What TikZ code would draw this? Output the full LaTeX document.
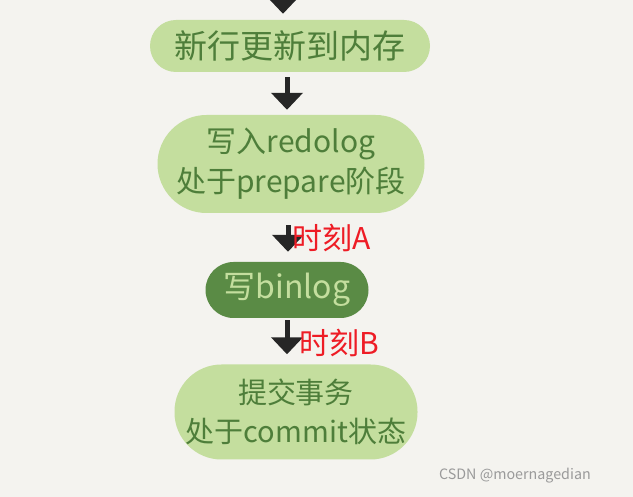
\documentclass[tikz,border=0pt]{standalone}
\usepackage{fontspec}
\setmainfont{Noto Sans CJK SC}
\usetikzlibrary{arrows.meta}
\definecolor{bg}{HTML}{F4F3EF}
\definecolor{lgreen}{HTML}{C4DE9E}
\definecolor{dgreen}{HTML}{5A8B45}
\definecolor{tgreen}{HTML}{4E7E3A}
\definecolor{arr}{HTML}{262626}
\definecolor{myred}{HTML}{EE1C25}
\definecolor{wm}{HTML}{9A9A9A}
\begin{document}
\begin{tikzpicture}[x=1pt,y=-1pt,
  blob/.style={fill=lgreen, text=tgreen, align=center, inner sep=0pt,
    font=\fontsize{30}{40}\selectfont},
  darkblob/.style={blob, fill=dgreen, text=lgreen},
  flow/.style={draw=arr, line width=5pt, -{Triangle[width=31pt,length=17pt]}},
  tag/.style={text=myred, anchor=west, inner sep=0pt, font=\fontsize{30}{32}\selectfont}]
\fill[bg] (0,0) rectangle (633,497);
\useasboundingbox (0,0) rectangle (633,497);

\node[blob, font=\fontsize{33}{40}\selectfont, minimum width=280pt, minimum height=52pt, rounded corners=26pt] (n1) at (290,46) {新行更新到内存};
\node[blob, minimum width=267pt, minimum height=98pt, rounded corners=49pt] (n2) at (291,164) {写入redolog\\处于prepare阶段};
\node[darkblob, font=\fontsize{32}{40}\selectfont, minimum width=163pt, minimum height=56pt, rounded corners=28pt] (n3) at (287,290) {写binlog};
\node[blob, font=\fontsize{29}{39}\selectfont, minimum width=243pt, minimum height=95pt, rounded corners=47pt] (n4) at (296,412) {提交事务\\处于commit状态};

\coordinate (top) at (283,0);
\draw[flow, shorten >=6pt] (top) -- (top |- n1.north);
\draw[flow, shorten <=5pt, shorten >=5pt] ([xshift=-3pt]n1.south) -- ([xshift=-4pt]n2.north);
\draw[flow, shorten <=12pt, shorten >=10pt] ([xshift=-3pt]n2.south) -- ([xshift=1pt]n3.north);
\draw[flow, shorten <=2pt, shorten >=10pt] (n3.south) -- ([xshift=-9pt]n4.north);

\node[tag] (ta) at (292,238) {时刻A};
\node[tag] (tb) at (299,343) {时刻B};

\node[text=wm, anchor=east, inner sep=0pt, font=\fontsize{14.3}{16}\selectfont] (wmk) at (591,476) {CSDN @moernagedian};
\end{tikzpicture}
\end{document}
